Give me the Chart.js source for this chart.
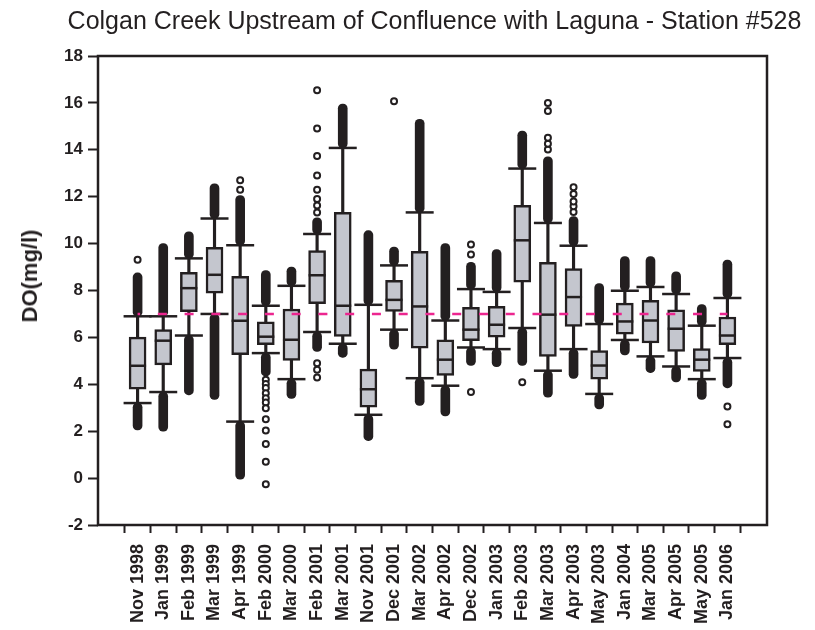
<!DOCTYPE html>
<html>
<head>
<meta charset="utf-8">
<title>Colgan Creek DO</title>
<script src="https://cdn.jsdelivr.net/npm/chart.js@4.4.0/dist/chart.umd.min.js"></script>
<style>
  html, body { margin: 0; padding: 0; background: #fff; overflow: hidden; }
  #wrap { position: relative; width: 815px; height: 630px; }
  #title {
    position: absolute; top: 5px; left: 54px; right: 0;
    text-align: center; white-space: nowrap;
    font: 25px/30px "Liberation Sans", Arial, sans-serif; color: #231f20;
  }
  #ytitle {
    position: absolute; left: 30px; top: 276px; white-space: nowrap;
    transform: translate(-50%, -50%) rotate(-90deg);
    font: bold 22px/26px "Liberation Sans", Arial, sans-serif; color: #231f20;
  }
  canvas { display: block; }
</style>
</head>
<body>
<div id="wrap">
  <canvas id="doChart" width="815" height="630"></canvas>
  <div id="title">Colgan Creek Upstream of Confluence with Laguna - Station #528</div>
  <div id="ytitle">DO(mg/l)</div>
</div>
<script>
"use strict";

const months = ['Nov 1998', 'Jan 1999', 'Feb 1999', 'Mar 1999', 'Apr 1999', 'Feb 2000',
  'Mar 2000', 'Feb 2001', 'Mar 2001', 'Nov 2001', 'Dec 2001', 'Mar 2002', 'Apr 2002',
  'Dec 2002', 'Jan 2003', 'Feb 2003', 'Mar 2003', 'Apr 2003', 'May 2003', 'Jan 2004',
  'Mar 2005', 'Apr 2005', 'May 2005', 'Jan 2006'];

// box plot stats, DO in mg/l
const lowCap = [3.2, 3.67, 6.08, 7.0, 2.41, 5.33, 4.22, 6.23, 5.73, 2.7, 6.33, 4.26,
  3.94, 5.57, 5.5, 6.4, 4.58, 5.5, 3.59, 5.89, 5.19, 4.76, 4.22, 5.12];
const q1 = [3.79, 4.83, 7.1, 7.89, 5.26, 5.69, 5.02, 7.44, 6.04, 3.03, 7.11, 5.54,
  4.38, 5.86, 6.01, 8.35, 5.19, 6.47, 4.22, 6.14, 5.76, 5.4, 4.55, 5.69];
const median = [4.79, 5.86, 8.1, 8.67, 6.71, 6.03, 5.9, 8.65, 7.35, 3.79, 7.6, 7.32,
  5.05, 6.33, 6.54, 10.14, 6.97, 7.72, 4.8, 6.68, 6.72, 6.37, 5.05, 6.08];
const q3 = [6.01, 6.33, 8.77, 9.84, 8.6, 6.66, 7.21, 9.7, 11.33, 4.65, 8.43, 9.67,
  5.9, 7.28, 7.32, 11.63, 9.2, 8.93, 5.44, 7.46, 7.58, 7.18, 5.52, 6.87];
const highCap = [6.9, 6.9, 9.37, 11.07, 9.93, 7.35, 8.2, 10.41, 14.08, 7.39, 9.07, 11.33,
  6.72, 8.06, 7.94, 13.2, 10.88, 9.91, 6.57, 7.99, 8.15, 7.85, 6.5, 7.68];

// extent of the solid runs of outliers beyond each whisker
const lowDense = [2.05, 2.0, 3.55, 3.35, -0.05, 4.35, 3.4, 5.4, 5.15, 1.6, 5.5, 3.1,
  2.65, 4.8, 4.75, 4.8, 3.45, 4.25, 2.95, 5.25, 4.5, 4.1, 3.35, 3.85];
const highDense = [8.75, 10.0, 10.5, 12.55, 12.05, 8.85, 9.0, 11.1, 15.95, 10.55, 9.85, 15.3,
  10.0, 9.2, 9.75, 14.8, 13.7, 11.15, 8.3, 9.45, 9.45, 8.8, 7.4, 9.3];

// separate outliers
const outliers = [
  [9.31], [], [], [], [12.3, 12.7],
  [4.19, 4.01, 3.84, 3.62, 3.41, 3.22, 2.98, 2.51, 2.03, 1.45, 0.7, -0.26],
  [], [11.33, 11.63, 11.9, 12.3, 12.9, 13.74, 14.91, 16.54, 4.9, 4.62, 4.29],
  [], [], [16.07], [], [], [9.53, 9.96, 3.67], [], [4.09],
  [14.01, 14.26, 14.51, 15.65, 16.0], [11.35, 11.59, 11.8, 12.12, 12.4],
  [], [], [], [], [], [3.05, 2.3]
];

const doStandard = 7;

const ink = '#231f20';
const boxFill = '#c4c6ce';
const pink = '#ec268f';
const fontFamily = '"Liberation Sans", Arial, Helvetica, sans-serif';

const at = (i, y) => ({ x: i + 1, y: y });
const span = (lo, hi) => lo.map((v, i) => at(i, [v, hi[i]]));

const frame = {
  id: 'frame',
  afterDatasetsDraw(chart) {
    const { ctx, chartArea: a } = chart;
    ctx.save();
    ctx.lineWidth = 2.5;
    ctx.strokeStyle = ink;
    ctx.strokeRect(a.left, a.top, a.right - a.left, a.bottom - a.top);
    ctx.restore();
  }
};

const barBase = {
  type: 'bar', grouped: false, barPercentage: 1, categoryPercentage: 1,
  borderSkipped: false
};

const ctx = document.getElementById('doChart').getContext('2d');
new Chart(ctx, {
  type: 'bar',
  data: {
    datasets: [
      Object.assign({}, barBase, {
        label: 'whisker', order: 7, data: span(lowCap, highCap),
        backgroundColor: ink, maxBarThickness: 2.5, borderWidth: 0
      }),
      Object.assign({}, barBase, {
        label: 'low outliers', order: 6, data: span(lowDense, lowCap),
        backgroundColor: ink, maxBarThickness: 9, borderWidth: 0, borderRadius: 5
      }),
      Object.assign({}, barBase, {
        label: 'high outliers', order: 6, data: span(highCap, highDense),
        backgroundColor: ink, maxBarThickness: 9, borderWidth: 0, borderRadius: 5
      }),
      Object.assign({}, barBase, {
        label: 'box', order: 5, data: span(q1, q3),
        backgroundColor: boxFill, borderColor: ink, borderWidth: 2.5, maxBarThickness: 17
      }),
      {
        type: 'scatter', label: 'median', order: 4,
        data: median.map((v, i) => at(i, v)),
        pointStyle: 'line', pointRadius: 8.5, pointBorderWidth: 2.5, pointBorderColor: ink
      },
      {
        type: 'scatter', label: 'caps', order: 3,
        data: lowCap.map((v, i) => at(i, v)).concat(highCap.map((v, i) => at(i, v))),
        pointStyle: 'line', pointRadius: 14, pointBorderWidth: 2.5, pointBorderColor: ink
      },
      {
        type: 'scatter', label: 'outliers', order: 2,
        data: outliers.flatMap((vals, i) => vals.map(v => at(i, v))),
        pointStyle: 'circle', pointRadius: 3, pointBorderWidth: 2,
        pointBackgroundColor: '#ffffff', pointBorderColor: ink
      },
      {
        type: 'line', label: 'standard', order: 1,
        data: months.map((m, i) => at(i, doStandard)),
        borderColor: pink, borderWidth: 2.5, borderDash: [9, 17.76], borderDashOffset: 6.5,
        pointRadius: 0, fill: false
      }
    ]
  },
  options: {
    responsive: false,
    animation: false,
    events: [],
    layout: { padding: { left: 0, top: 56, right: 48, bottom: 0 } },
    plugins: {
      legend: { display: false },
      tooltip: { enabled: false }
    },
    scales: {
      x: {
        type: 'linear', min: 0, max: months.length + 1,
        afterFit: (scale) => { scale.height = 105; },
        // one tick per month, none at the empty ends
        afterBuildTicks: (scale) => {
          scale.ticks = scale.ticks.filter(t => t.value >= 1 && t.value <= months.length);
        },
        border: { display: false },
        grid: { drawOnChartArea: false, tickLength: 8, tickWidth: 2, tickColor: ink },
        ticks: {
          stepSize: 1, autoSkip: false, minRotation: 90, maxRotation: 90, padding: 11,
          color: ink, font: { family: fontFamily, size: 18, weight: 'bold' },
          callback: (value) => months[value - 1] || ''
        }
      },
      y: {
        min: -2, max: 18,
        afterFit: (scale) => { scale.width = 98; },
        border: { display: false },
        grid: { drawOnChartArea: false, tickLength: 10, tickWidth: 2, tickColor: ink },
        ticks: {
          stepSize: 2, padding: 5, color: ink,
          font: { family: fontFamily, size: 17, weight: 'bold' }
        }
      }
    }
  },
  plugins: [frame]
});
</script>
</body>
</html>
